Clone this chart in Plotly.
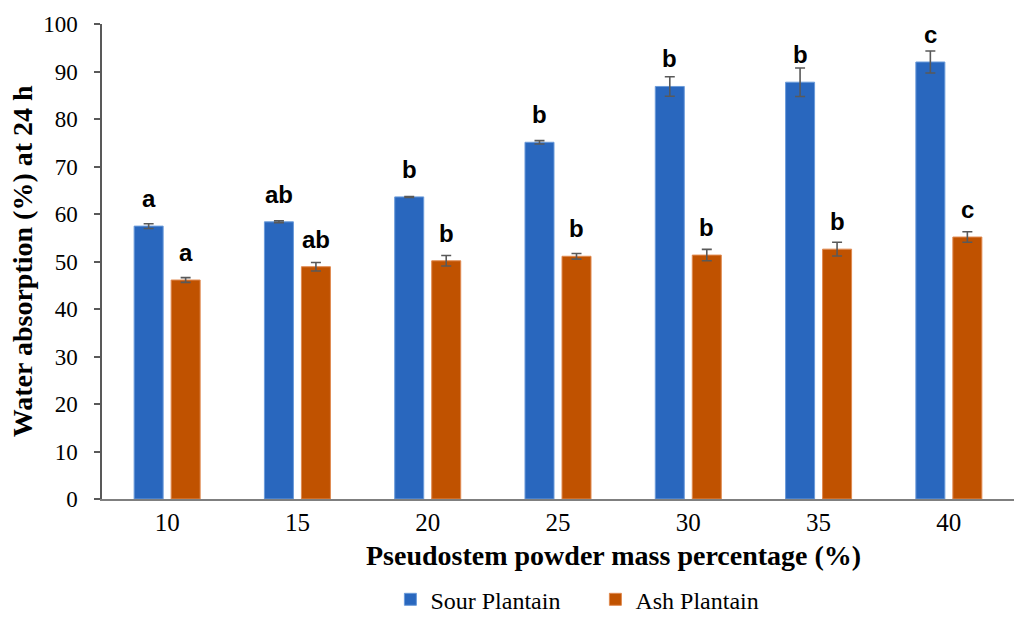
import plotly.graph_objects as go

categories = ["10", "15", "20", "25", "30", "35", "40"]
sour_values = [57.45, 58.35, 63.6, 75.1, 86.85, 87.75, 92.0]
sour_errors = [0.5, 0.2, 0.1, 0.35, 2.05, 3.0, 2.3]
sour_letters = ["a", "ab", "b", "b", "b", "b", "c"]
ash_values = [46.1, 48.9, 50.15, 51.1, 51.35, 52.6, 55.15]
ash_errors = [0.5, 0.9, 1.1, 0.6, 1.2, 1.45, 1.1]
ash_letters = ["a", "ab", "b", "b", "b", "b", "c"]

BLUE = "#2967BE"
ORANGE = "#C05200"
BARGAP = 0.432
GROUPGAP = 0.216

fig = go.Figure()
fig.add_trace(go.Bar(
    name="Sour Plantain", x=categories, y=sour_values,
    marker=dict(color=BLUE, line=dict(color="#6B9BDA", width=1)),
    error_y=dict(type="data", array=sour_errors, color="#595959", thickness=1.6, width=5),
))
fig.add_trace(go.Bar(
    name="Ash Plantain", x=categories, y=ash_values,
    marker=dict(color=ORANGE, line=dict(color="#E08A50", width=1)),
    error_y=dict(type="data", array=ash_errors, color="#595959", thickness=1.6, width=5),
))

slot = (1 - BARGAP) / 2
annotations = []
for i in range(len(categories)):
    for vals, letters, off in ((sour_values, sour_letters, -slot / 2), (ash_values, ash_letters, slot / 2)):
        annotations.append(dict(
            x=i + off, y=vals[i], xref="x", yref="y", text=f"<b>{letters[i]}</b>",
            showarrow=False, yanchor="bottom", xanchor="center", yshift=12,
            font=dict(family="Liberation Sans", size=24, color="black"),
        ))

annotations.append(dict(
    x=0.5605, y=-0.083, xref="paper", yref="paper", yanchor="top",
    text="<b>Pseudostem powder mass percentage (%)</b>", showarrow=False,
    font=dict(family="Liberation Serif", size=28, color="black"),
))
annotations.append(dict(
    x=-0.087, y=0.5, xref="paper", yref="paper", xanchor="center", yanchor="middle",
    text="<b>Water absorption (%) at 24 h</b>", textangle=-90, showarrow=False,
    font=dict(family="Liberation Serif", size=28, color="black"),
))

fig.update_layout(
    width=1027, height=617,
    margin=dict(l=102, r=13, t=24, b=118),
    paper_bgcolor="white", plot_bgcolor="white",
    barmode="group", bargap=BARGAP, bargroupgap=GROUPGAP,
    font=dict(family="Liberation Serif", color="black"),
    showlegend=True,
    legend=dict(
        orientation="h", x=0.541, xanchor="center",
        yref="container", y=0.028, yanchor="middle",
        font=dict(family="Liberation Serif", size=24, color="black"),
        entrywidth=160,
    ),
    annotations=annotations,
    xaxis=dict(
        showline=True, linecolor="#7F7F7F", linewidth=1.5, ticks="",
        tickfont=dict(family="Liberation Serif", size=25, color="black"),
        ticklabelstandoff=0,
    ),
    yaxis=dict(
        range=[0, 100], dtick=10, showgrid=False, zeroline=False,
        showline=True, linecolor="#595959", linewidth=1.5,
        ticks="outside", ticklen=6, tickcolor="#595959", tickwidth=1.5,
        tickfont=dict(family="Liberation Serif", size=23, color="black"),
        ticklabelstandoff=12,
    ),
)

fig.write_html("out.html")
